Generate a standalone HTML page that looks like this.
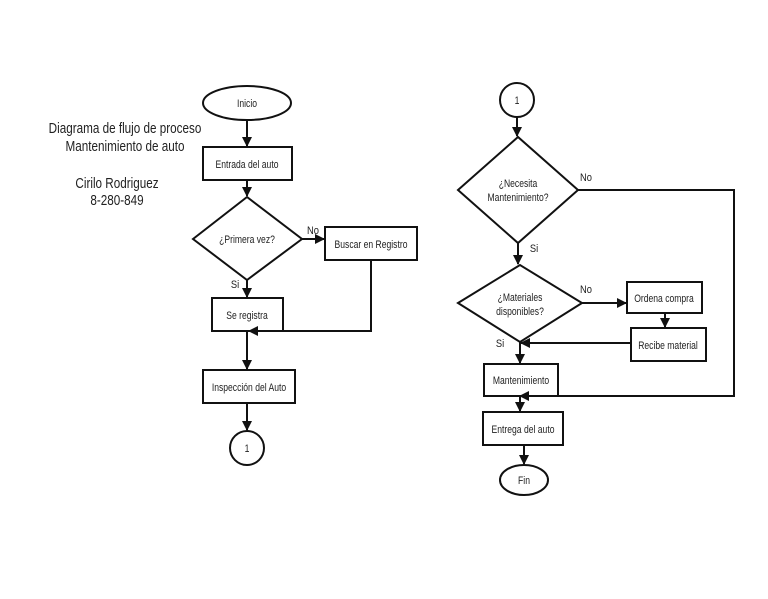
<!DOCTYPE html>
<html><head><meta charset="utf-8"><style>
html,body{margin:0;padding:0;background:#fff;}
svg text{font-family:"Liberation Sans",sans-serif;fill:#222;}
</style></head><body>
<svg width="768" height="594" viewBox="0 0 768 594" xmlns="http://www.w3.org/2000/svg">
<defs><marker id="a" markerWidth="10" markerHeight="10" refX="9" refY="5" orient="auto" markerUnits="userSpaceOnUse"><path d="M0,0 L10,5 L0,10 Z" fill="#111"/></marker></defs>
<g font-size="15" text-anchor="middle">
<text transform="translate(125,133) scale(0.78,1)">Diagrama de flujo de proceso</text>
<text transform="translate(125,151) scale(0.78,1)">Mantenimiento de auto</text>
<text transform="translate(117,188) scale(0.78,1)">Cirilo Rodriguez</text>
<text transform="translate(117,205) scale(0.78,1)">8-280-849</text>
</g>
<g fill="#fff" stroke="#111" stroke-width="2">
<ellipse cx="247" cy="103" rx="44" ry="17"/>
<rect x="203" y="147" width="89" height="33"/>
<polygon points="193,239 247,197 302,239 247,280"/>
<rect x="325" y="227" width="92" height="33"/>
<rect x="212" y="298" width="71" height="33"/>
<rect x="203" y="370" width="92" height="33"/>
<circle cx="247" cy="448" r="17"/>
<circle cx="517" cy="100" r="17"/>
<polygon points="458,190 518,137 578,190 518,243"/>
<polygon points="458,303 520,265 582,303 520,342"/>
<rect x="627" y="282" width="75" height="31"/>
<rect x="631" y="328" width="75" height="33"/>
<rect x="484" y="364" width="74" height="32"/>
<rect x="483" y="412" width="80" height="33"/>
<ellipse cx="524" cy="480" rx="24" ry="15"/>
</g>
<g fill="none" stroke="#111" stroke-width="2">
<line x1="247" y1="121" x2="247" y2="146" marker-end="url(#a)"/>
<line x1="247" y1="180" x2="247" y2="196" marker-end="url(#a)"/>
<line x1="302" y1="239" x2="324" y2="239" marker-end="url(#a)"/>
<line x1="247" y1="280" x2="247" y2="297" marker-end="url(#a)"/>
<polyline points="371,260 371,331 249,331" marker-end="url(#a)"/>
<line x1="247" y1="331" x2="247" y2="369" marker-end="url(#a)"/>
<line x1="247" y1="403" x2="247" y2="430" marker-end="url(#a)"/>
<line x1="517" y1="117" x2="517" y2="136" marker-end="url(#a)"/>
<polyline points="578,190 734,190 734,396 520,396" marker-end="url(#a)"/>
<line x1="518" y1="243" x2="518" y2="264" marker-end="url(#a)"/>
<line x1="582" y1="303" x2="626" y2="303" marker-end="url(#a)"/>
<line x1="665" y1="313" x2="665" y2="327" marker-end="url(#a)"/>
<line x1="631" y1="343" x2="521" y2="343" marker-end="url(#a)"/>
<line x1="520" y1="342" x2="520" y2="363" marker-end="url(#a)"/>
<line x1="520" y1="396" x2="520" y2="411" marker-end="url(#a)"/>
<line x1="524" y1="445" x2="524" y2="464" marker-end="url(#a)"/>
</g>
<g font-size="11" text-anchor="middle">
<text transform="translate(247,107) scale(0.78,1)">Inicio</text>
<text transform="translate(247,168) scale(0.78,1)">Entrada del auto</text>
<text transform="translate(247,243) scale(0.78,1)">¿Primera vez?</text>
<text transform="translate(371,248) scale(0.78,1)">Buscar en Registro</text>
<text transform="translate(247,319) scale(0.78,1)">Se registra</text>
<text transform="translate(249,391) scale(0.78,1)">Inspección del Auto</text>
<text transform="translate(247,452) scale(0.78,1)">1</text>
<text transform="translate(517,104) scale(0.78,1)">1</text>
<text transform="translate(518,187) scale(0.78,1)">¿Necesita</text>
<text transform="translate(518,201) scale(0.78,1)">Mantenimiento?</text>
<text transform="translate(520,301) scale(0.78,1)">¿Materiales</text>
<text transform="translate(520,315) scale(0.78,1)">disponibles?</text>
<text transform="translate(664,302) scale(0.78,1)">Ordena compra</text>
<text transform="translate(668,349) scale(0.78,1)">Recibe material</text>
<text transform="translate(521,384) scale(0.78,1)">Mantenimiento</text>
<text transform="translate(523,433) scale(0.78,1)">Entrega del auto</text>
<text transform="translate(524,484) scale(0.78,1)">Fin</text>
<text transform="translate(313,234) scale(0.85,1)">No</text>
<text transform="translate(235,288) scale(0.85,1)">Si</text>
<text transform="translate(586,181) scale(0.85,1)">No</text>
<text transform="translate(534,252) scale(0.85,1)">Si</text>
<text transform="translate(586,293) scale(0.85,1)">No</text>
<text transform="translate(500,347) scale(0.85,1)">Si</text>
</g>
</svg>
</body></html>
